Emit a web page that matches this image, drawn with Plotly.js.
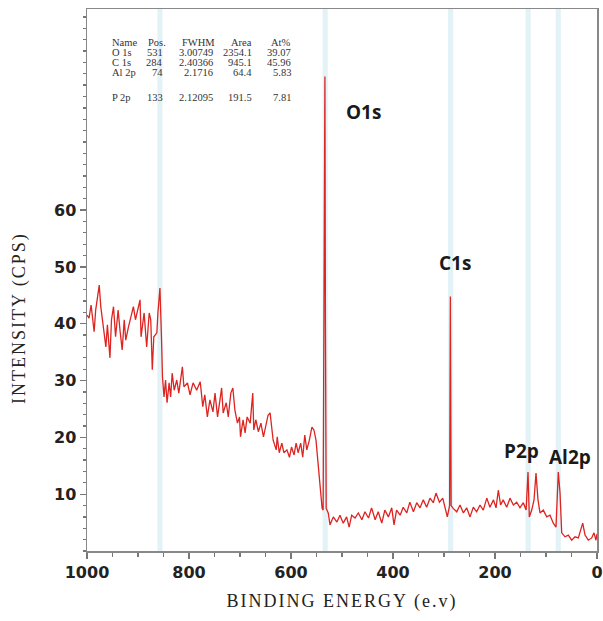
<!DOCTYPE html>
<html><head><meta charset="utf-8">
<script src="https://cdn.plot.ly/plotly-3.0.1.min.js"></script>
<style>
html,body{margin:0;padding:0;background:#fff;}
#chart{width:603px;height:621px;}
.xtitle{letter-spacing:2px;}
.annotation[data-index="0"] text{letter-spacing:2px;}
</style></head><body><div id="chart"></div>
<script>
// XPS survey spectrum (binding energy in eV, intensity in CPS)
const bindingEnergy = [
 1000,996,992,986,983,976,973,969,963,960,955,952,948,944,939,935,931,927,924,919,
 914,909,905,901,896,894,888,883,878,875,872,869,863,861,857,854,852,849,846,843,
 839,836,833,829,824,820,813,810,803,798,792,785,778,773,769,764,759,753,749,744,
 739,736,733,727,723,718,714,710,705,701,699,694,690,686,680,675,673,669,664,659,
 654,649,645,641,638,635,629,627,623,618,614,608,603,599,594,590,586,581,577,573,
 569,564,559,555,551,546,543,539,537,534.5,533.5,532.5,531,527,523.5,517,510,504,497.5,491,
 486,481,474.5,468,461,455,448,442,435,429,422,416,409,402.5,398,393,386,380,373,367,
 360,353.5,347,340.6,334,327.5,321,315.7,309,302.5,298,293.5,289,287.5,286,282,275,268.6,262,255.5,
 249,242.5,236,229.4,223,216,210,203,198,193.5,189,184,177,170.6,164,157.5,151,144.5,139,135.3,
 132.7,128,123.5,119.6,115.7,111.8,105.3,98.6,92.2,85.7,80.4,75.9,72.5,69.2,62.7,56.3,49.6,43.1,36.6,32,
 28,23.5,17.1,10.4,5.9,2,0
];
const intensity = [
 41.5,41.0,43.3,38.6,42.4,46.8,43.0,40.1,35.9,39.8,34.0,40.7,43.0,37.7,42.4,38.6,35.4,40.7,37.1,39.3,
 41.2,43.0,40.7,42.4,44.2,37.7,41.9,35.9,41.9,40.7,31.9,37.7,38.4,41.9,46.3,37.7,30.6,27.1,30.1,26.1,
 29.6,27.1,31.3,28.3,30.1,27.8,32.4,28.9,29.6,27.5,29.6,28.3,29.8,25.4,27.5,23.6,26.6,24.5,27.8,23.6,
 26.6,28.7,24.3,26.1,23.6,27.8,28.7,24.8,22.5,23.6,20.1,23.1,20.8,23.6,22.5,27.8,21.3,23.1,21.0,22.5,
 20.1,22.5,23.9,24.3,21.8,19.5,17.8,20.1,17.3,19.0,17.3,17.8,16.5,18.3,16.9,19.0,17.3,19.0,16.5,20.4,
 17.8,19.5,21.8,21.3,19.5,14.3,11.0,7.5,7.2,70.0,83.5,40.0,7.5,6.7,4.6,6.0,5.1,6.3,4.9,6.0,
 4.2,6.3,5.8,6.7,5.5,6.9,5.8,7.6,5.5,6.9,4.9,7.2,6.0,7.6,4.6,7.2,6.3,7.7,6.7,8.6,
 6.9,8.5,7.6,9.0,7.7,9.3,8.5,10.2,8.6,9.3,7.7,6.0,8.0,44.8,8.0,7.5,6.9,8.1,6.7,7.6,
 6.0,7.7,6.9,8.1,7.2,9.3,7.7,9.0,7.6,10.7,8.1,9.0,7.7,9.3,8.1,8.6,7.6,8.5,7.2,13.9,
 6.0,7.2,9.0,13.7,9.0,6.7,7.2,6.0,6.3,4.9,4.2,13.9,10.2,3.2,2.5,2.8,1.9,2.5,2.3,3.7,
 4.9,2.8,1.9,2.3,3.2,1.9,3.0
];

// Highlighted peak positions (eV)
const bandCenters = [857, 533, 287, 135, 76];

// Peak labels
const peakNames = ['O1s', 'C1s', 'P2p', 'Al2p'];

// Quantification table
const tableHeader = ['Name', 'Pos.', 'FWHM', 'Area', 'At%'];
const tableNames = ['O 1s', 'C 1s', 'Al 2p', 'P 2p'];
const tablePos = ['531', '284', '74', '133'];
const tableFWHM = ['3.00749', '2.40366', '2.1716', '2.12095'];
const tableArea = ['2354.1', '945.1', '64.4', '191.5'];
const tableAt = ['39.07', '45.96', '5.83', '7.81'];

const yTickVals = [10, 20, 30, 40, 50, 60];
const xTickVals = [1000, 800, 600, 400, 200, 0];

// ---- layout helpers (pixel geometry) ----
const W = 603, H = 621, ML = 87, MR = 6, MT = 9, MB = 70;
const PW = W - ML - MR, PH = H - MT - MB;
const px = v => (v - ML) / PW;
const py = v => (H - MB - v) / PH;

const annotations = [];
// y-axis title (index 0)
annotations.push({
  text: 'INTENSITY (CPS)', xref: 'paper', yref: 'paper', x: px(20), y: py(318),
  textangle: -90, showarrow: false, xanchor: 'center', yanchor: 'middle',
  font: {family: 'Liberation Serif, Times New Roman, serif', size: 18, color: '#222'}
});

// peak labels
const peakLabelPos = [[457, 77.3], [278, 50.7], [149, 17.6], [53, 16.6]];
peakNames.forEach((n, i) => {
  annotations.push({
    text: n, xref: 'x', yref: 'y', x: peakLabelPos[i][0], y: peakLabelPos[i][1],
    showarrow: false, xanchor: 'center', yanchor: 'middle',
    font: {family: 'Open Sans, sans-serif', size: 19, color: '#1a1a1a', weight: 700}
  });
});

// table
const tfont = {family: 'Liberation Serif, Times New Roman, serif', size: 10.5, color: '#333'};
const headerX = [[110, 'left'], [168, 'right'], [217, 'right'], [254, 'right'], [293, 'right']];
const colX = [[110, 'left'], [165, 'right'], [215, 'right'], [254, 'right'], [293, 'right']];
const rowY = [52.5, 62.5, 72.5, 97.5];
tableHeader.forEach((t, j) => {
  annotations.push({text: t, xref: 'paper', yref: 'paper', x: px(headerX[j][0]), y: py(42.5),
    xanchor: headerX[j][1], yanchor: 'middle', showarrow: false, font: tfont});
});
const cols = [tableNames, tablePos, tableFWHM, tableArea, tableAt];
cols.forEach((col, j) => {
  col.forEach((t, i) => {
    annotations.push({text: t, xref: 'paper', yref: 'paper', x: px(colX[j][0]), y: py(rowY[i]),
      xanchor: colX[j][1], yanchor: 'middle', showarrow: false, font: tfont});
  });
});

const shapes = bandCenters.map(c => ({
  type: 'rect', xref: 'x', yref: 'paper', x0: c - 5, x1: c + 5, y0: 0, y1: 1,
  fillcolor: '#e2f2f7', line: {width: 0}, layer: 'below'
}));

const trace = {
  x: bindingEnergy, y: intensity, type: 'scatter', mode: 'lines',
  line: {color: '#dd2420', width: 1.3}, hoverinfo: 'skip', showlegend: false
};

const tickfont = {family: 'DejaVu Sans, sans-serif', size: 16, color: '#222', weight: 700};

const layout = {
  width: W, height: H,
  margin: {l: ML, r: MR, t: MT, b: MB},
  paper_bgcolor: '#fff', plot_bgcolor: '#fff',
  showlegend: false,
  xaxis: {
    range: [1000, 0], tickmode: 'array', tickvals: xTickVals,
    ticks: 'outside', ticklen: 6, tickwidth: 1.3, tickcolor: '#777',
    minor: {tickmode: 'linear', tick0: 0, dtick: 50, ticks: 'outside', ticklen: 4, tickcolor: '#777'},
    showline: true, linecolor: '#888', linewidth: 1.5, mirror: true,
    showgrid: false, zeroline: false, tickfont: tickfont,
    title: {text: 'BINDING ENERGY (e.v)', standoff: 13,
      font: {family: 'Liberation Serif, Times New Roman, serif', size: 18, color: '#222'}}
  },
  yaxis: {
    range: [0, 95.4], tickmode: 'array', tickvals: yTickVals,
    ticks: 'outside', ticklen: 6, tickwidth: 1.3, tickcolor: '#777',
    minor: {tickmode: 'linear', tick0: 0, dtick: 2, ticks: 'outside', ticklen: 3, tickcolor: '#777'},
    showline: true, linecolor: '#888', linewidth: 1.5, mirror: true,
    showgrid: false, zeroline: false, tickfont: tickfont
  },
  shapes: shapes,
  annotations: annotations
};

Plotly.newPlot('chart', [trace], layout, {displayModeBar: false, staticPlot: true});
</script></body></html>
